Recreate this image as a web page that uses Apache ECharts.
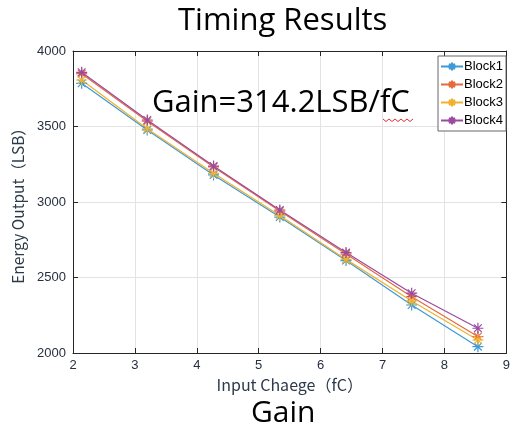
<!DOCTYPE html>
<html><head><meta charset="utf-8">
<script src="https://cdn.jsdelivr.net/npm/echarts@6/dist/echarts.min.js"></script>
<style>html,body{margin:0;padding:0;background:#fff}#c{width:513px;height:433px}</style>
</head><body><div id="c"></div>
<script>
const inputCharge = [2.14, 3.20, 4.27, 5.34, 6.41, 7.47, 8.54];
const block1 = [3786, 3477, 3179, 2900, 2612, 2318, 2042];
const block2 = [3850, 3535, 3232, 2940, 2655, 2373, 2109];
const block3 = [3808, 3485, 3190, 2910, 2620, 2345, 2086];
const block4 = [3859, 3543, 3238, 2947, 2665, 2396, 2164];
const seriesNames = ['Block1', 'Block2', 'Block3', 'Block4'];
const colors = ['#3d9ad8', '#e36b3d', '#f0b22e', '#9b4a9f'];
const seriesData = [block1, block2, block3, block4];

const star = 'path://M0,5L10,5M5,0L5,10M1.5,1.5L8.5,8.5M8.5,1.5L1.5,8.5';
const chart = echarts.init(document.getElementById('c'));
const font = 'Arial, "Liberation Sans", sans-serif';
const nameFont = '"Noto Sans CJK SC", "Noto Sans", sans-serif';
const titleFont = '"Open Sans", "Noto Sans", sans-serif';
const wave = [];
for (let i = 0; i <= 10; i++) wave.push([383 + i * 3, 120 + (i % 2 ? 1.5 : -1)]);
chart.setOption({
  backgroundColor: '#fff',
  animation: false,
  grid: {left: 73, top: 51, width: 438, height: 302, containLabel: false},
  graphic: [
    {type: 'text', left: 178, top: 6, style: {text: 'Timing Results', font: '31px ' + titleFont, fill: '#000'}},
    {type: 'text', left: 152, top: 88, style: {text: 'Gain=314.2LSB/fC', font: '31px ' + titleFont, fill: '#000'}, z: 10},
    {type: 'polyline', shape: {points: wave}, style: {stroke: '#e03030', lineWidth: 1, fill: null}, z: 10},
    {type: 'text', left: 251, top: 398, style: {text: 'Gain', font: '30px ' + titleFont, fill: '#000'}}
  ],
  legend: {
    orient: 'vertical', left: 438, top: 56,
    data: seriesNames,
    itemWidth: 22, itemHeight: 10, itemGap: 5,
    padding: [4, 3, 4, 2],
    backgroundColor: '#fff', borderColor: '#666', borderWidth: 1,
    textStyle: {fontSize: 13, fontFamily: font, color: '#000', padding: [0, 0, 0, -4]}
  },
  xAxis: [{
    type: 'value', min: 2, max: 9, interval: 1,
    name: 'Input Chaege（fC）', nameLocation: 'middle', nameGap: 22,
    nameTextStyle: {fontSize: 16, fontFamily: nameFont, color: '#2c3a4a'},
    axisLine: {lineStyle: {color: '#262626', width: 1}},
    axisTick: {inside: true, length: 5, lineStyle: {color: '#262626'}},
    axisLabel: {fontSize: 13, fontFamily: font, color: '#263040', margin: 6},
    splitLine: {show: true, lineStyle: {color: '#e3e3e3'}}
  }, {
    type: 'value', min: 2, max: 9, interval: 1, position: 'top',
    axisLine: {show: true, lineStyle: {color: '#262626'}},
    axisTick: {show: true, inside: true, length: 5, lineStyle: {color: '#262626'}},
    axisLabel: {show: false}, splitLine: {show: false}
  }],
  yAxis: [{
    type: 'value', min: 2000, max: 4000, interval: 500,
    name: 'Energy Output（LSB）', nameLocation: 'middle', nameGap: 42,
    nameTextStyle: {fontSize: 15.5, fontFamily: nameFont, color: '#2c3a4a'},
    axisLine: {show: true, lineStyle: {color: '#262626'}},
    axisTick: {show: true, inside: true, length: 5, lineStyle: {color: '#262626'}},
    axisLabel: {fontSize: 13, fontFamily: font, color: '#263040', margin: 7, formatter: v => String(v)},
    splitLine: {show: true, lineStyle: {color: '#e3e3e3'}}
  }, {
    type: 'value', min: 2000, max: 4000, interval: 500, position: 'right',
    axisLine: {show: true, lineStyle: {color: '#262626'}},
    axisTick: {show: true, inside: true, length: 5, lineStyle: {color: '#262626'}},
    axisLabel: {show: false}, splitLine: {show: false}
  }],
  series: seriesNames.map((n, i) => ({
    name: n, type: 'line',
    data: inputCharge.map((x, j) => [x, seriesData[i][j]]),
    symbol: star, symbolSize: 11, showSymbol: true,
    color: colors[i],
    lineStyle: {width: 1.2, color: colors[i]},
    itemStyle: {color: 'rgba(0,0,0,0)', borderColor: colors[i], borderWidth: 1.2}
  }))
});
</script></body></html>
